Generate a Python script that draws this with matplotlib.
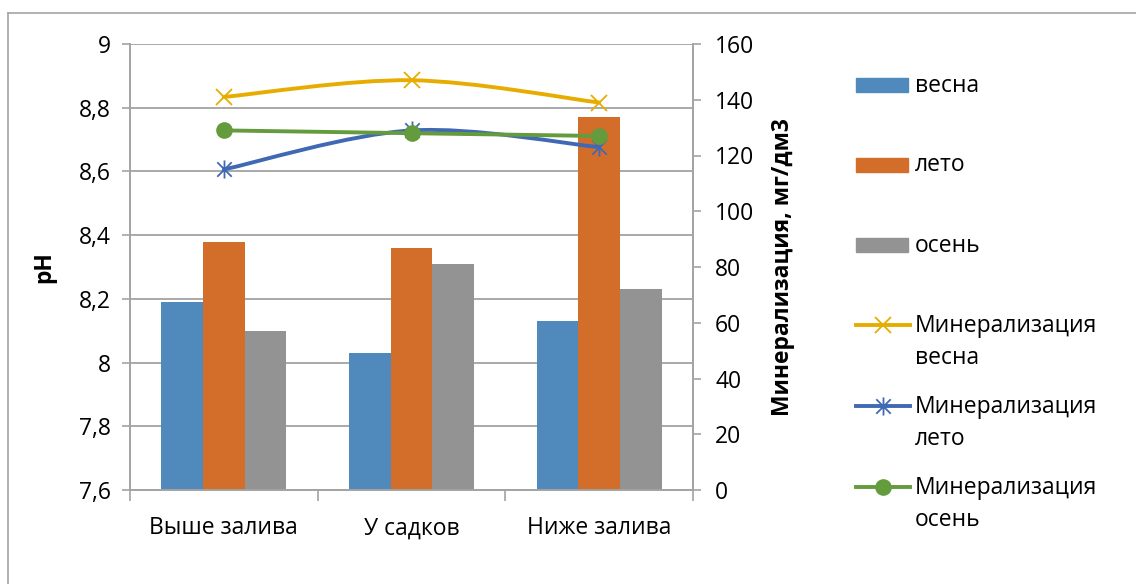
import numpy as np
import matplotlib
matplotlib.use("Agg")
import matplotlib.pyplot as plt
from matplotlib.path import Path
from matplotlib.patches import PathPatch, Rectangle
from matplotlib.lines import Line2D
from matplotlib.ticker import FixedLocator, FuncFormatter, MultipleLocator

plt.rcParams['font.family'] = ['Open Sans', 'DejaVu Sans']
plt.rcParams['font.size'] = 16.5

# sampling sites
sites = ["Выше залива", "У садков", "Ниже залива"]

# pH by season (primary axis, bars)
ph_spring = [8.19, 8.03, 8.13]
ph_summer = [8.38, 8.36, 8.77]
ph_autumn = [8.10, 8.31, 8.23]

# mineralisation, mg/dm3 (secondary axis, lines)
min_spring = [141, 147, 139]
min_summer = [115, 129, 123]
min_autumn = [129, 128, 127]

W, H = 1136, 584
c_blue = "#508abd"
c_orange = "#d36e2a"
c_gray = "#939393"
c_yellow = "#e6ad00"
c_lblue = "#4169b3"
c_green = "#649b3d"
c_axis = "#a3a3a3"

# excel-like asterisk: vertical stroke plus an X
star = Path([(0, -1), (0, 1), (-0.8, -0.8), (0.8, 0.8), (-0.8, 0.8), (0.8, -0.8)],
            [Path.MOVETO, Path.LINETO] * 3)


def smooth_path(xs, ys, k=1 / 6):
    """Bezier path through the points, like excel's smoothed line."""
    pts = np.column_stack([xs, ys]).astype(float)
    n = len(pts)
    verts = [pts[0]]
    codes = [Path.MOVETO]
    for i in range(n - 1):
        p_prev = pts[max(i - 1, 0)]
        p0, p1 = pts[i], pts[i + 1]
        p_next = pts[min(i + 2, n - 1)]
        verts += [p0 + (p1 - p_prev) * k, p1 - (p_next - p0) * k, p1]
        codes += [Path.CURVE4] * 3
    return Path(verts, codes)


def ph_fmt(v, pos):
    return f"{round(v, 1):g}".replace(".", ",")


fig = plt.figure(figsize=(W / 100, H / 100), dpi=100)
ax = fig.add_axes([130 / W, 1 - 490 / H, 563 / W, 446 / H])
ax2 = ax.twinx()

x = np.arange(len(sites))
bw = 0.222
ax.bar(x - bw, ph_spring, bw, color=c_blue, zorder=2)
ax.bar(x, ph_summer, bw, color=c_orange, zorder=2)
ax.bar(x + bw, ph_autumn, bw, color=c_gray, zorder=2)

ax.set_ylim(7.6, 9.0)
ax.yaxis.set_major_locator(MultipleLocator(0.2))
ax.yaxis.set_major_formatter(FuncFormatter(ph_fmt))
ax.grid(axis="y", color=c_axis, lw=1.3, zorder=0)
ax.set_axisbelow(True)
ax.set_xlim(-0.5, 2.5)
ax.xaxis.set_major_locator(FixedLocator([-0.5, 0.5, 1.5, 2.5]))
ax.xaxis.set_major_formatter(FuncFormatter(lambda v, p: ""))
ax.xaxis.set_minor_locator(FixedLocator(x))
ax.set_xticklabels(sites, minor=True)
ax.tick_params(axis="x", which="major", length=8, color=c_axis, width=1.2)
ax.tick_params(axis="x", which="minor", length=0, pad=19)
ax.tick_params(axis="y", length=6, color=c_axis, width=1.2, pad=8)
ax.set_ylabel("pH", fontweight="bold", labelpad=16)

ax2.set_ylim(0, 160)
ax2.yaxis.set_major_locator(MultipleLocator(20))
ax2.tick_params(axis="y", length=6, color=c_axis, width=1.2, pad=10)
ax2.set_ylabel("Минерализация, мг/дм3", fontweight="bold", labelpad=12)

for a in (ax, ax2):
    a.spines["top"].set_visible(False)
    for s in ("left", "right", "bottom"):
        a.spines[s].set_color(c_axis)
        a.spines[s].set_linewidth(1.2)

series = [
    (min_spring, c_yellow, dict(marker="x", ms=12, mew=1.3)),
    (min_summer, c_lblue, dict(marker=star, ms=13, mew=1.3)),
    (min_autumn, c_green, dict(marker="o", ms=12, mew=0)),
]
for vals, col, mk in series:
    ax2.add_patch(PathPatch(smooth_path(x, vals), facecolor="none",
                            edgecolor=col, lw=2.8, capstyle="round", zorder=3))
    ax2.plot(x, vals, ls="none", color=col, mec=col, zorder=4, **mk)

# legend on the right
def fx(px):
    return px / W


def fy(py):
    return 1 - py / H


bar_items = [("весна", c_blue, 84.5), ("лето", c_orange, 164.5), ("осень", c_gray, 245.5)]
for label, col, yc in bar_items:
    fig.add_artist(Rectangle((fx(856), fy(yc + 7)), 52 / W, 14 / H,
                             transform=fig.transFigure, color=col))
    fig.text(fx(915), fy(yc + 1), label, va="center", ha="left")

line_items = [("Минерализация\nвесна", series[0], 325), ("Минерализация\nлето", series[1], 406),
              ("Минерализация\nосень", series[2], 487)]
for label, (vals, col, mk), yc in line_items:
    fig.add_artist(Line2D([fx(856), fx(910)], [fy(yc), fy(yc)], transform=fig.transFigure,
                          color=col, lw=2.8))
    fig.add_artist(Line2D([fx(883)], [fy(yc)], transform=fig.transFigure, ls="none",
                          color=col, mec=col, **mk))
    fig.text(fx(915), fy(yc + 17), label, va="center", ha="left", linespacing=1.4)

# chart frame
fig.add_artist(Line2D([fx(8), 1], [fy(13), fy(13)], transform=fig.transFigure, color=c_axis, lw=1.2))
fig.add_artist(Line2D([fx(8), fx(8)], [fy(13), 0], transform=fig.transFigure, color=c_axis, lw=1.2))

fig.savefig("out.png", dpi=100)
